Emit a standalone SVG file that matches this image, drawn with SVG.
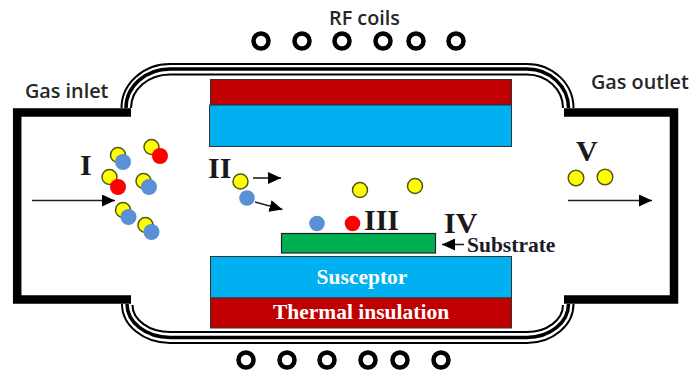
<svg xmlns="http://www.w3.org/2000/svg" width="691" height="374" viewBox="0 0 691 374">
<style>
.sans{font-family:"Open Sans","Noto Sans",sans-serif;font-size:19.800px;fill:#262626;font-weight:600}
.ser{font-family:"Liberation Serif",serif;font-weight:700}
.num{font-size:30px;fill:#1a1a1a}
.lab{font-size:21.500px;fill:#fff}
.coil{fill:#fff;stroke:#000;stroke-width:4.500}
.y{fill:#ffff00;stroke:#55551a;stroke-width:1.500}
.b{fill:#5b8fd6}
.r{fill:#ff0000}
.wall{fill:none;stroke:#000;stroke-width:8.500;stroke-linejoin:miter}
.tube{fill:none;stroke:#000}
.ar{fill:none;stroke:#222;stroke-width:1.600}
</style>
<defs>
<marker id="ah" viewBox="0 0 13 12" refX="13" refY="6" markerWidth="13" markerHeight="12" markerUnits="userSpaceOnUse" orient="auto"><path d="M0,0L13,6L0,12z" fill="#000"/></marker>
</defs>
<g id="wall-left"><path class="wall" d="M131,112.500H17.200V299.500H131"/></g>
<g id="wall-right"><path class="wall" d="M564,112.500H674V299.500H564"/></g>
<g id="tube">
<g class="tube" stroke-width="2">
<path d="M121.500,108A48.500,44 0 0 1 170,64H527A46.500,44 0 0 1 573.500,108"/>
<path d="M131,108A39,33.500 0 0 1 170,74.500H527A36,33.500 0 0 1 563,108"/>
<path d="M122,304A48,39 0 0 0 170,343H527A46.500,39 0 0 0 573.500,304"/>
<path d="M132.500,305A37.500,27 0 0 0 170,332H527A36,27 0 0 0 563,305"/>
</g>
<g class="tube" stroke-width="3.500">
<path d="M126,108A44,39 0 0 1 170,69H527A41.500,39 0 0 1 568.500,108"/>
<path d="M127,304A43,33.500 0 0 0 170,337.500H527A41.500,33.500 0 0 0 568.500,304"/>
</g>
</g>
<g id="top-insulation"><rect x="210.500" y="79.500" width="301" height="25" fill="#c00000" stroke="#333" stroke-width="1"/></g>
<g id="top-susceptor"><rect x="209.500" y="105" width="302" height="41.500" fill="#00b0f0" stroke="#333" stroke-width="1"/></g>
<g id="substrate"><rect x="281.500" y="233.500" width="154" height="19.500" fill="#00b050" stroke="#222" stroke-width="1.200"/></g>
<g id="susceptor"><rect x="210.500" y="256.500" width="301" height="41.500" fill="#00b0f0" stroke="#333" stroke-width="1"/><text class="ser lab" x="362" y="283.500" text-anchor="middle">Susceptor</text></g>
<g id="thermal-insulation"><rect x="210.500" y="298" width="301" height="30" fill="#c00000" stroke="#333" stroke-width="1"/><text class="ser lab" x="361" y="319" text-anchor="middle">Thermal insulation</text></g>
<g id="coils-top">
<circle class="coil" cx="261" cy="41" r="7.500"/><circle class="coil" cx="302" cy="41" r="7.500"/><circle class="coil" cx="342" cy="41" r="7.500"/><circle class="coil" cx="383" cy="41" r="7.500"/><circle class="coil" cx="416" cy="41" r="7.500"/><circle class="coil" cx="456" cy="41" r="7.500"/>
</g>
<g id="coils-bottom">
<circle class="coil" cx="246" cy="360" r="7.500"/><circle class="coil" cx="287" cy="360" r="7.500"/><circle class="coil" cx="327" cy="360" r="7.500"/><circle class="coil" cx="368" cy="360" r="7.500"/><circle class="coil" cx="400" cy="360" r="7.500"/><circle class="coil" cx="441" cy="360" r="7.500"/>
</g>
<g id="connectors">
<path class="ar" marker-end="url(#ah)" d="M32,200.500H115"/>
<path class="ar" marker-end="url(#ah)" d="M253,178H281"/>
<path class="ar" marker-end="url(#ah)" d="M255,202L282.500,209.500"/>
<path class="ar" marker-end="url(#ah)" d="M568,200.500H652"/>
<path class="ar" marker-end="url(#ah)" d="M464,244.500H442"/>
</g>
<g id="particles">
<circle class="y" cx="118" cy="155" r="7.500"/><circle class="b" cx="123" cy="162" r="8"/>
<circle class="y" cx="151.500" cy="147" r="7.500"/><circle class="r" cx="160" cy="156" r="8"/>
<circle class="y" cx="109.500" cy="177" r="7.500"/><circle class="r" cx="118" cy="187" r="8"/>
<circle class="y" cx="143.500" cy="181" r="7.500"/><circle class="b" cx="149" cy="187" r="8"/>
<circle class="y" cx="123" cy="210" r="7.500"/><circle class="b" cx="128.500" cy="217" r="8"/>
<circle class="y" cx="145.500" cy="225" r="7.500"/><circle class="b" cx="151.500" cy="232" r="8"/>
<circle class="y" cx="240.500" cy="181.500" r="7.500"/><circle class="b" cx="247" cy="198" r="7.800"/>
<circle class="b" cx="317" cy="223.500" r="7.800"/><circle class="r" cx="352.500" cy="223.500" r="7.800"/>
<circle class="y" cx="360" cy="190" r="7.500"/><circle class="y" cx="415" cy="186" r="7.500"/>
<circle class="y" cx="576" cy="178" r="7.800"/><circle class="y" cx="605" cy="177" r="7.800"/>
</g>
<g id="labels">
<text class="sans" x="25" y="98">Gas inlet</text>
<text class="sans" x="591" y="89">Gas outlet</text>
<text class="sans" x="329" y="25">RF coils</text>
<text class="ser num" x="80" y="175">I</text>
<text class="ser num" x="208" y="178">II</text>
<text class="ser num" x="364" y="230">III</text>
<text class="ser num" x="444" y="233">IV</text>
<text class="ser num" x="576" y="161">V</text>
<text class="ser" x="467" y="251.500" font-size="21.500" fill="#1a1a2a">Substrate</text>
</g>
</svg>
